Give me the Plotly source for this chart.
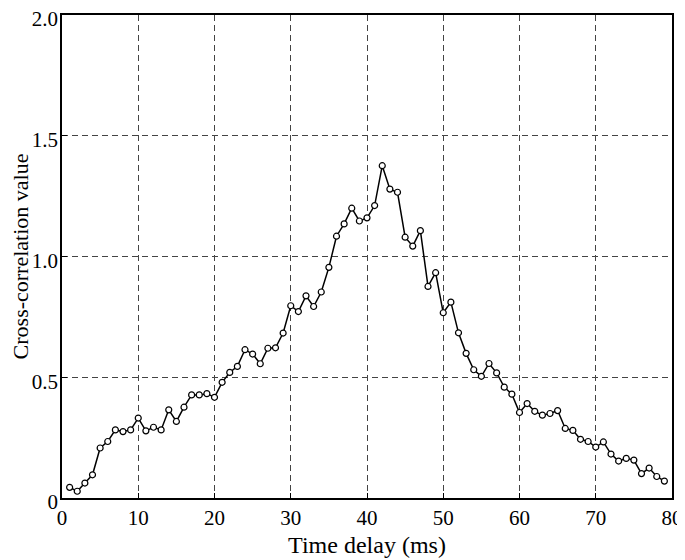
import plotly.graph_objects as go

delay_ms = list(range(1, 80))
cross_corr = [
    0.044, 0.028, 0.062, 0.096, 0.207, 0.234, 0.282, 0.275, 0.282, 0.331,
    0.278, 0.293, 0.282, 0.365, 0.317, 0.376, 0.427, 0.427, 0.432, 0.417,
    0.479, 0.520, 0.545, 0.614, 0.596, 0.556, 0.620, 0.622, 0.683, 0.796,
    0.772, 0.837, 0.793, 0.853, 0.955, 1.084, 1.135, 1.200, 1.147, 1.160,
    1.211, 1.376, 1.279, 1.266, 1.080, 1.043, 1.107, 0.876, 0.933, 0.767,
    0.811, 0.684, 0.599, 0.531, 0.504, 0.557, 0.518, 0.459, 0.430, 0.354,
    0.391, 0.359, 0.343, 0.350, 0.362, 0.288, 0.280, 0.243, 0.234, 0.211,
    0.232, 0.182, 0.153, 0.164, 0.157, 0.101, 0.124, 0.089, 0.070,
]

x_ticks = [0, 10, 20, 30, 40, 50, 60, 70, 80]
y_ticks = [0, 0.5, 1.0, 1.5, 2.0]
y_tick_text = ["0", "0.5", "1.0", "1.5", "2.0"]

fig = go.Figure()
fig.add_trace(go.Scatter(
    x=delay_ms, y=cross_corr, mode="lines+markers",
    line=dict(color="black", width=1.5),
    marker=dict(symbol="circle", size=6, color="white",
                line=dict(color="black", width=1.2)),
    showlegend=False,
))

serif = "Liberation Serif"
fig.update_layout(
    width=677, height=552,
    margin=dict(l=54, r=13, t=7, b=62),
    paper_bgcolor="white", plot_bgcolor="white",
    font=dict(family=serif, size=21, color="black"),
)
common = dict(
    showline=True, mirror=True, linecolor="black", linewidth=1.5,
    showgrid=True, gridcolor="#444", griddash="6px,4px", gridwidth=1,
    ticks="inside", ticklen=5, tickcolor="black",
    zeroline=False, automargin=False, ticklabeloverflow="allow",
    tickfont=dict(family=serif, size=21, color="black"),
)
fig.update_xaxes(
    range=[0, 80], tickvals=x_ticks, ticktext=[str(v) for v in x_ticks],
    title=dict(text="Time delay (ms)", standoff=7,
               font=dict(family=serif, size=24, color="black")),
    **common,
)
fig.update_yaxes(
    range=[0, 2.0], tickvals=y_ticks, ticktext=y_tick_text,
    ticklabelshift=4, ticklabelstandoff=-2,
    title=dict(text="Cross-correlation value", standoff=0,
               font=dict(family=serif, size=22, color="black")),
    **common,
)
fig.write_html("out.html")
